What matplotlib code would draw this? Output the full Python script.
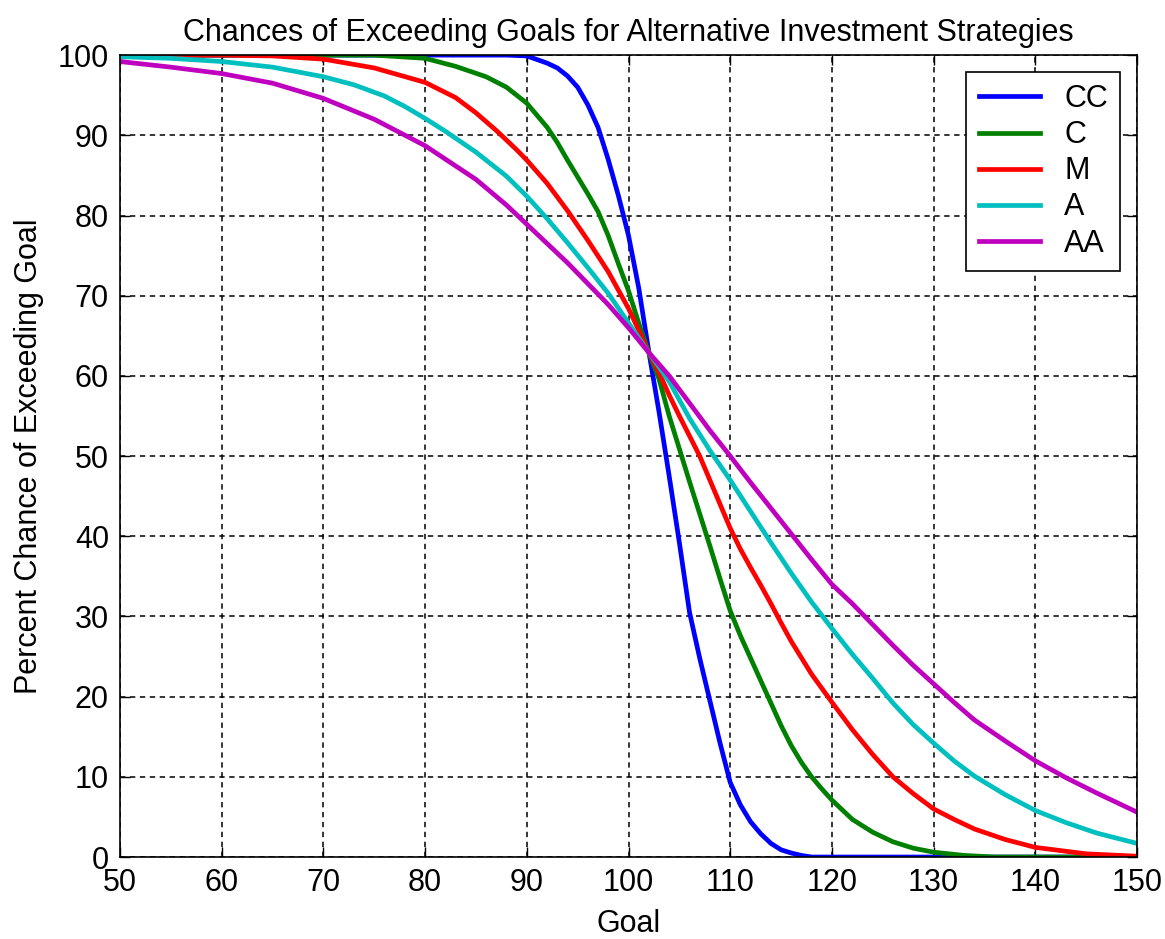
import matplotlib
matplotlib.use('Agg')
import matplotlib.pyplot as plt

#   defaults
plt.rcParams['font.family'] = ['Liberation Sans', 'DejaVu Sans']
fs = 22

#   goal vs percent chance of exceeding it, one list pair per strategy
labels = ['CC', 'C', 'M', 'A', 'AA']
colours = ['#0000ff', '#008000', '#ff0000', '#00bfbf', '#bf00bf']

cc_x = [50, 88, 90, 92, 93, 94, 95, 96, 97, 98, 99, 100, 101, 102, 103, 104, 105,
        106, 107, 108, 109, 110, 111, 112, 113, 114, 115, 116, 117, 118, 150]
cc_y = [100, 100, 99.9, 99.0, 98.4, 97.4, 96.0, 93.8, 91.0, 87.0, 82.5, 77.5, 71.0, 63.0,
        55.5, 47.5, 39.2, 30.5, 24.8, 19.5, 14.2, 9.3, 6.5, 4.4, 2.9, 1.7, 0.9, 0.5, 0.2, 0, 0]

c_x = [50, 75, 80, 83, 86, 88, 90, 92, 93, 94, 95, 96, 97, 98, 99, 100, 101, 102, 103,
       104, 105, 106, 107, 108, 109, 110, 111, 112, 113, 114, 115, 116, 117, 118, 119,
       120, 122, 124, 126, 128, 130, 133, 136, 150]
c_y = [100, 100, 99.6, 98.6, 97.3, 96.0, 94.0, 91.0, 89.1, 86.9, 84.8, 82.7, 80.5, 77.5,
       74.0, 70.6, 66.6, 62.9, 59.6, 55.0, 50.9, 46.8, 42.8, 38.8, 34.7, 30.7, 27.6, 24.8,
       22.0, 19.2, 16.4, 13.9, 11.8, 10.0, 8.5, 7.1, 4.7, 3.1, 1.9, 1.1, 0.6, 0.2, 0, 0]

m_x = [50, 60, 65, 70, 75, 80, 83, 85, 87, 89, 90, 92, 94, 96, 98, 100, 101, 102, 103,
       104, 105, 106, 107, 108, 109, 110, 111, 112, 113, 114, 115, 116, 118, 120, 122,
       124, 126, 128, 130, 132, 134, 137, 140, 145, 150]
m_y = [100, 100, 99.9, 99.5, 98.4, 96.6, 94.7, 92.8, 90.6, 88.2, 86.9, 84.0, 80.6, 76.9,
       73.0, 68.4, 65.7, 62.9, 60.4, 57.6, 55.0, 52.5, 50.0, 47.0, 44.0, 41.0, 38.4, 36.1,
       33.9, 31.6, 29.2, 26.9, 22.8, 19.3, 15.9, 12.8, 10.0, 7.9, 6.0, 4.7, 3.5, 2.2, 1.2,
       0.4, 0.1]

a_x = [50, 55, 60, 65, 70, 73, 76, 78, 80, 82, 85, 88, 90, 92, 94, 96, 98, 100, 102,
       104, 106, 108, 110, 112, 114, 116, 118, 120, 122, 124, 126, 128, 130, 132, 134,
       137, 140, 143, 146, 150]
a_y = [99.8, 99.6, 99.2, 98.5, 97.3, 96.3, 94.9, 93.6, 92.1, 90.5, 87.9, 84.9, 82.4, 79.6,
       76.6, 73.5, 70.3, 66.6, 62.9, 59.3, 54.7, 50.7, 47.0, 43.1, 39.2, 35.4, 31.8, 28.5,
       25.3, 22.3, 19.2, 16.5, 14.2, 12.0, 10.1, 7.8, 5.8, 4.3, 3.0, 1.7]

aa_x = [50, 55, 60, 65, 70, 75, 80, 85, 88, 90, 92, 94, 96, 98, 100, 102, 104, 106, 108,
        110, 112, 114, 116, 118, 120, 122, 124, 126, 128, 130, 132, 134, 137, 140, 143,
        146, 150]
aa_y = [99.2, 98.5, 97.7, 96.5, 94.6, 92.0, 88.7, 84.5, 81.3, 78.9, 76.5, 74.1, 71.5, 68.9,
        66.0, 62.9, 60.0, 56.6, 53.2, 50.0, 46.7, 43.5, 40.3, 37.1, 34.0, 31.6, 29.0, 26.4,
        23.9, 21.6, 19.3, 17.1, 14.5, 12.0, 9.9, 8.0, 5.6]

series = [(cc_x, cc_y), (c_x, c_y), (m_x, m_y), (a_x, a_y), (aa_x, aa_y)]

#   plot the curves
fig = plt.figure(figsize=(11.65, 9.39), dpi=100)
ax = fig.add_axes([0.103, 0.0873, 0.873, 0.854])
for (xs, ys), lab, col in zip(series, labels, colours):
    ax.plot(xs, ys, color=col, lw=3.4, label=lab)

ax.set_xlim(50, 150)
ax.set_ylim(0, 100)
ax.set_xticks(range(50, 151, 10))
ax.set_yticks(range(0, 101, 10))
ax.grid(True, color='black', ls=(0, (3.5, 3)), lw=1.1)
ax.tick_params(direction='in', length=7, width=1, top=True, right=True,
               labelsize=fs, pad=8, colors='black')
for sp in ax.spines.values():
    sp.set_linewidth(1.2)

ax.set_xlabel('Goal', fontsize=fs, labelpad=8)
ax.set_ylabel('Percent Chance of Exceeding Goal', fontsize=fs, labelpad=10)
ax.set_title('Chances of Exceeding Goals for Alternative Investment Strategies',
             fontsize=fs, pad=10)

leg = ax.legend(loc='upper right', fontsize=fs, fancybox=False, framealpha=1,
                edgecolor='black', handlelength=2.0, borderaxespad=0.55,
                labelspacing=0.2, handletextpad=0.8)
leg.get_frame().set_linewidth(1.2)

plt.savefig('out.png', dpi=100)
